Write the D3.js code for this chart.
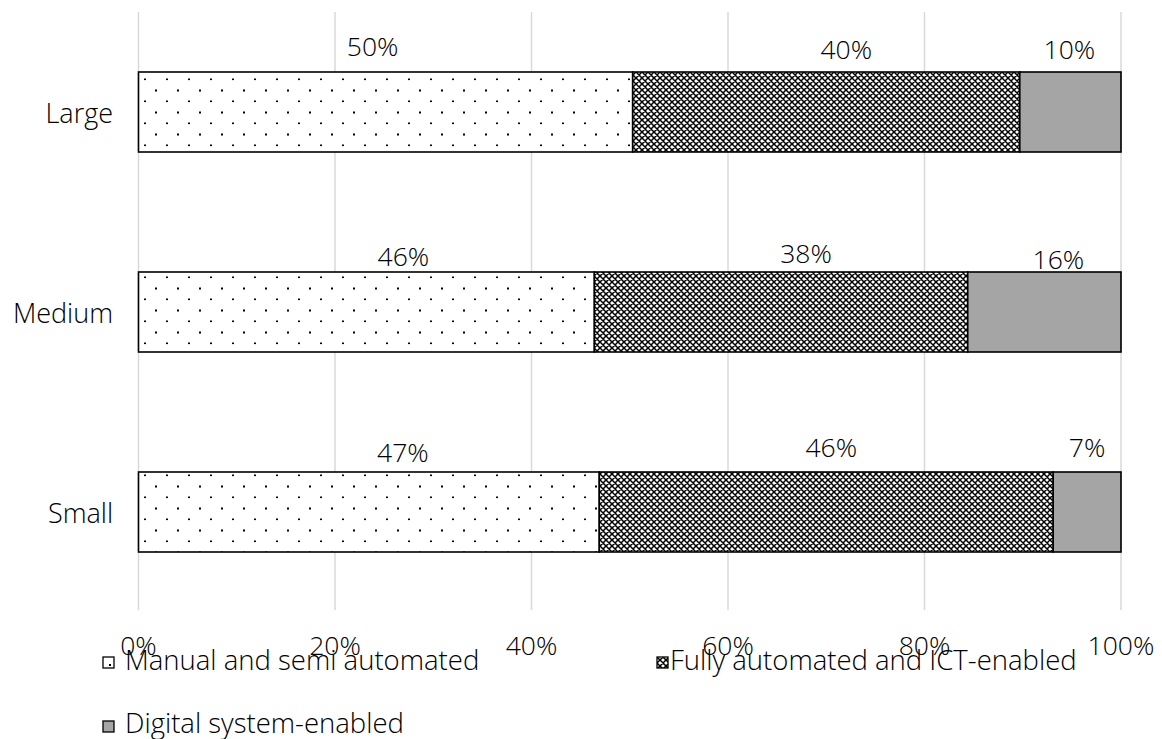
<!DOCTYPE html>
<html>
<head>
<meta charset="utf-8">
<script src="https://cdn.jsdelivr.net/npm/d3@7/dist/d3.min.js"></script>
<style>
  html, body { margin: 0; padding: 0; background: #fff; }
  svg { display: block; }
  text { font-family: "Open Sans", "Noto Sans", sans-serif; font-weight: 300; fill: #000; }
</style>
</head>
<body>
<svg id="chart" width="1162" height="739"></svg>
<script>
// ---- data ----
const categories = ["Large", "Medium", "Small"];
const seriesNames = ["Manual and semi automated", "Fully automated and ICT-enabled", "Digital system-enabled"];
const manualValues = [50.3, 46.4, 46.9];
const fullyValues = [39.4, 38.0, 46.2];
const digitalValues = [10.3, 15.6, 6.9];
const valueLabels = [["50%", "40%", "10%"], ["46%", "38%", "16%"], ["47%", "46%", "7%"]];
const tickValues = [0, 20, 40, 60, 80, 100];
const tickLabels = ["0%", "20%", "40%", "60%", "80%", "100%"];

// ---- layout (manual label nudges, px, relative to segment centre / bar top) ----
const labelNudge = [
  [[-13, -16], [20, -13], [-1, -13]],
  [[37, -6], [25, -9], [14, -3]],
  [[34, -10], [5, -15], [0, -15]]
];

(function () {
const svg = d3.select("#chart");
const plotLeft = 138.5, plotRight = 1121, plotTop = 12, plotBottom = 612;

const x = d3.scaleLinear().domain([0, 100]).range([plotLeft, plotRight]);
const y = d3.scaleBand().domain(categories).range([plotTop, plotBottom]).paddingInner(0.6).paddingOuter(0.3);

// patterns
const defs = svg.append("defs");
const pd = defs.append("pattern").attr("id", "dots").attr("patternUnits", "userSpaceOnUse")
  .attr("width", 22).attr("height", 22);
pd.append("rect").attr("width", 22).attr("height", 22).attr("fill", "#fff");
pd.append("rect").attr("x", 12).attr("y", 12.5).attr("width", 2).attr("height", 1.6).attr("fill", "#000");
pd.append("rect").attr("x", 1).attr("y", 1.5).attr("width", 2).attr("height", 2).attr("fill", "#000");

const pc = defs.append("pattern").attr("id", "cross").attr("patternUnits", "userSpaceOnUse")
  .attr("width", 6).attr("height", 6);
pc.append("rect").attr("width", 6).attr("height", 6).attr("fill", "#fff");
pc.append("path").attr("d", "M0,0L6,6M6,0L0,6M-1,5L1,7M5,-1L7,1M-1,1L1,-1M5,7L7,5")
  .attr("stroke", "#000").attr("stroke-width", 1.5).attr("fill", "none");

const fills = ["url(#dots)", "url(#cross)", "#a5a5a5"];

// gridlines
svg.append("g").selectAll("line").data(tickValues).join("line")
  .attr("x1", d => x(d)).attr("x2", d => x(d))
  .attr("y1", plotTop).attr("y2", 610)
  .attr("stroke", "#d9d9d9").attr("stroke-width", 1.5);

// stacked data
const rows = categories.map((c, i) => ({ cat: c, v: [manualValues[i], fullyValues[i], digitalValues[i]] }));

rows.forEach((r, ri) => {
  let acc = 0;
  r.v.forEach((v, si) => {
    const x0 = acc, x1 = acc + v;
    acc = x1;
    svg.append("rect")
      .attr("x", x(x0)).attr("y", y(r.cat))
      .attr("width", x(x1) - x(x0)).attr("height", y.bandwidth())
      .attr("fill", fills[si]).attr("stroke", "#000").attr("stroke-width", 1.6);
    const n = labelNudge[ri][si];
    svg.append("text")
      .attr("x", x((x0 + x1) / 2) + n[0])
      .attr("y", y(r.cat) + n[1])
      .attr("text-anchor", "middle")
      .attr("font-size", 26.5)
      .text(valueLabels[ri][si]);
  });
});

// category axis labels
svg.append("g").selectAll("text").data(categories).join("text")
  .attr("x", 113).attr("y", d => y(d) + y.bandwidth() / 2 + 10.5)
  .attr("text-anchor", "end").attr("font-size", 27)
  .text(d => d);

// x axis tick labels
svg.append("g").selectAll("text").data(tickValues).join("text")
  .attr("x", d => x(d)).attr("y", 655)
  .attr("text-anchor", "middle").attr("font-size", 26.5)
  .text((d, i) => tickLabels[i]);

// legend
const legendCols = [{ sx: 103, tx: 125 }, { sx: 657, tx: 670 }];
const legendRows = [{ sy: 657, ty: 670 }, { sy: 721, ty: 733 }];
const lg = svg.append("g");
seriesNames.forEach((name, i) => {
  const c = legendCols[i % 2], r = legendRows[Math.floor(i / 2)];
  lg.append("rect").attr("x", c.sx).attr("y", r.sy).attr("width", 11).attr("height", 11)
    .attr("fill", i === 0 ? "#fff" : fills[i]).attr("stroke", "#000").attr("stroke-width", 1.3);
  if (i === 0) {
    lg.append("rect").attr("x", c.sx + 6).attr("y", r.sy + 7).attr("width", 2).attr("height", 2).attr("fill", "#000");
  }
  lg.append("text").attr("x", c.tx).attr("y", r.ty).attr("font-size", 27.5).text(name);
});
})();
</script>
</body>
</html>
